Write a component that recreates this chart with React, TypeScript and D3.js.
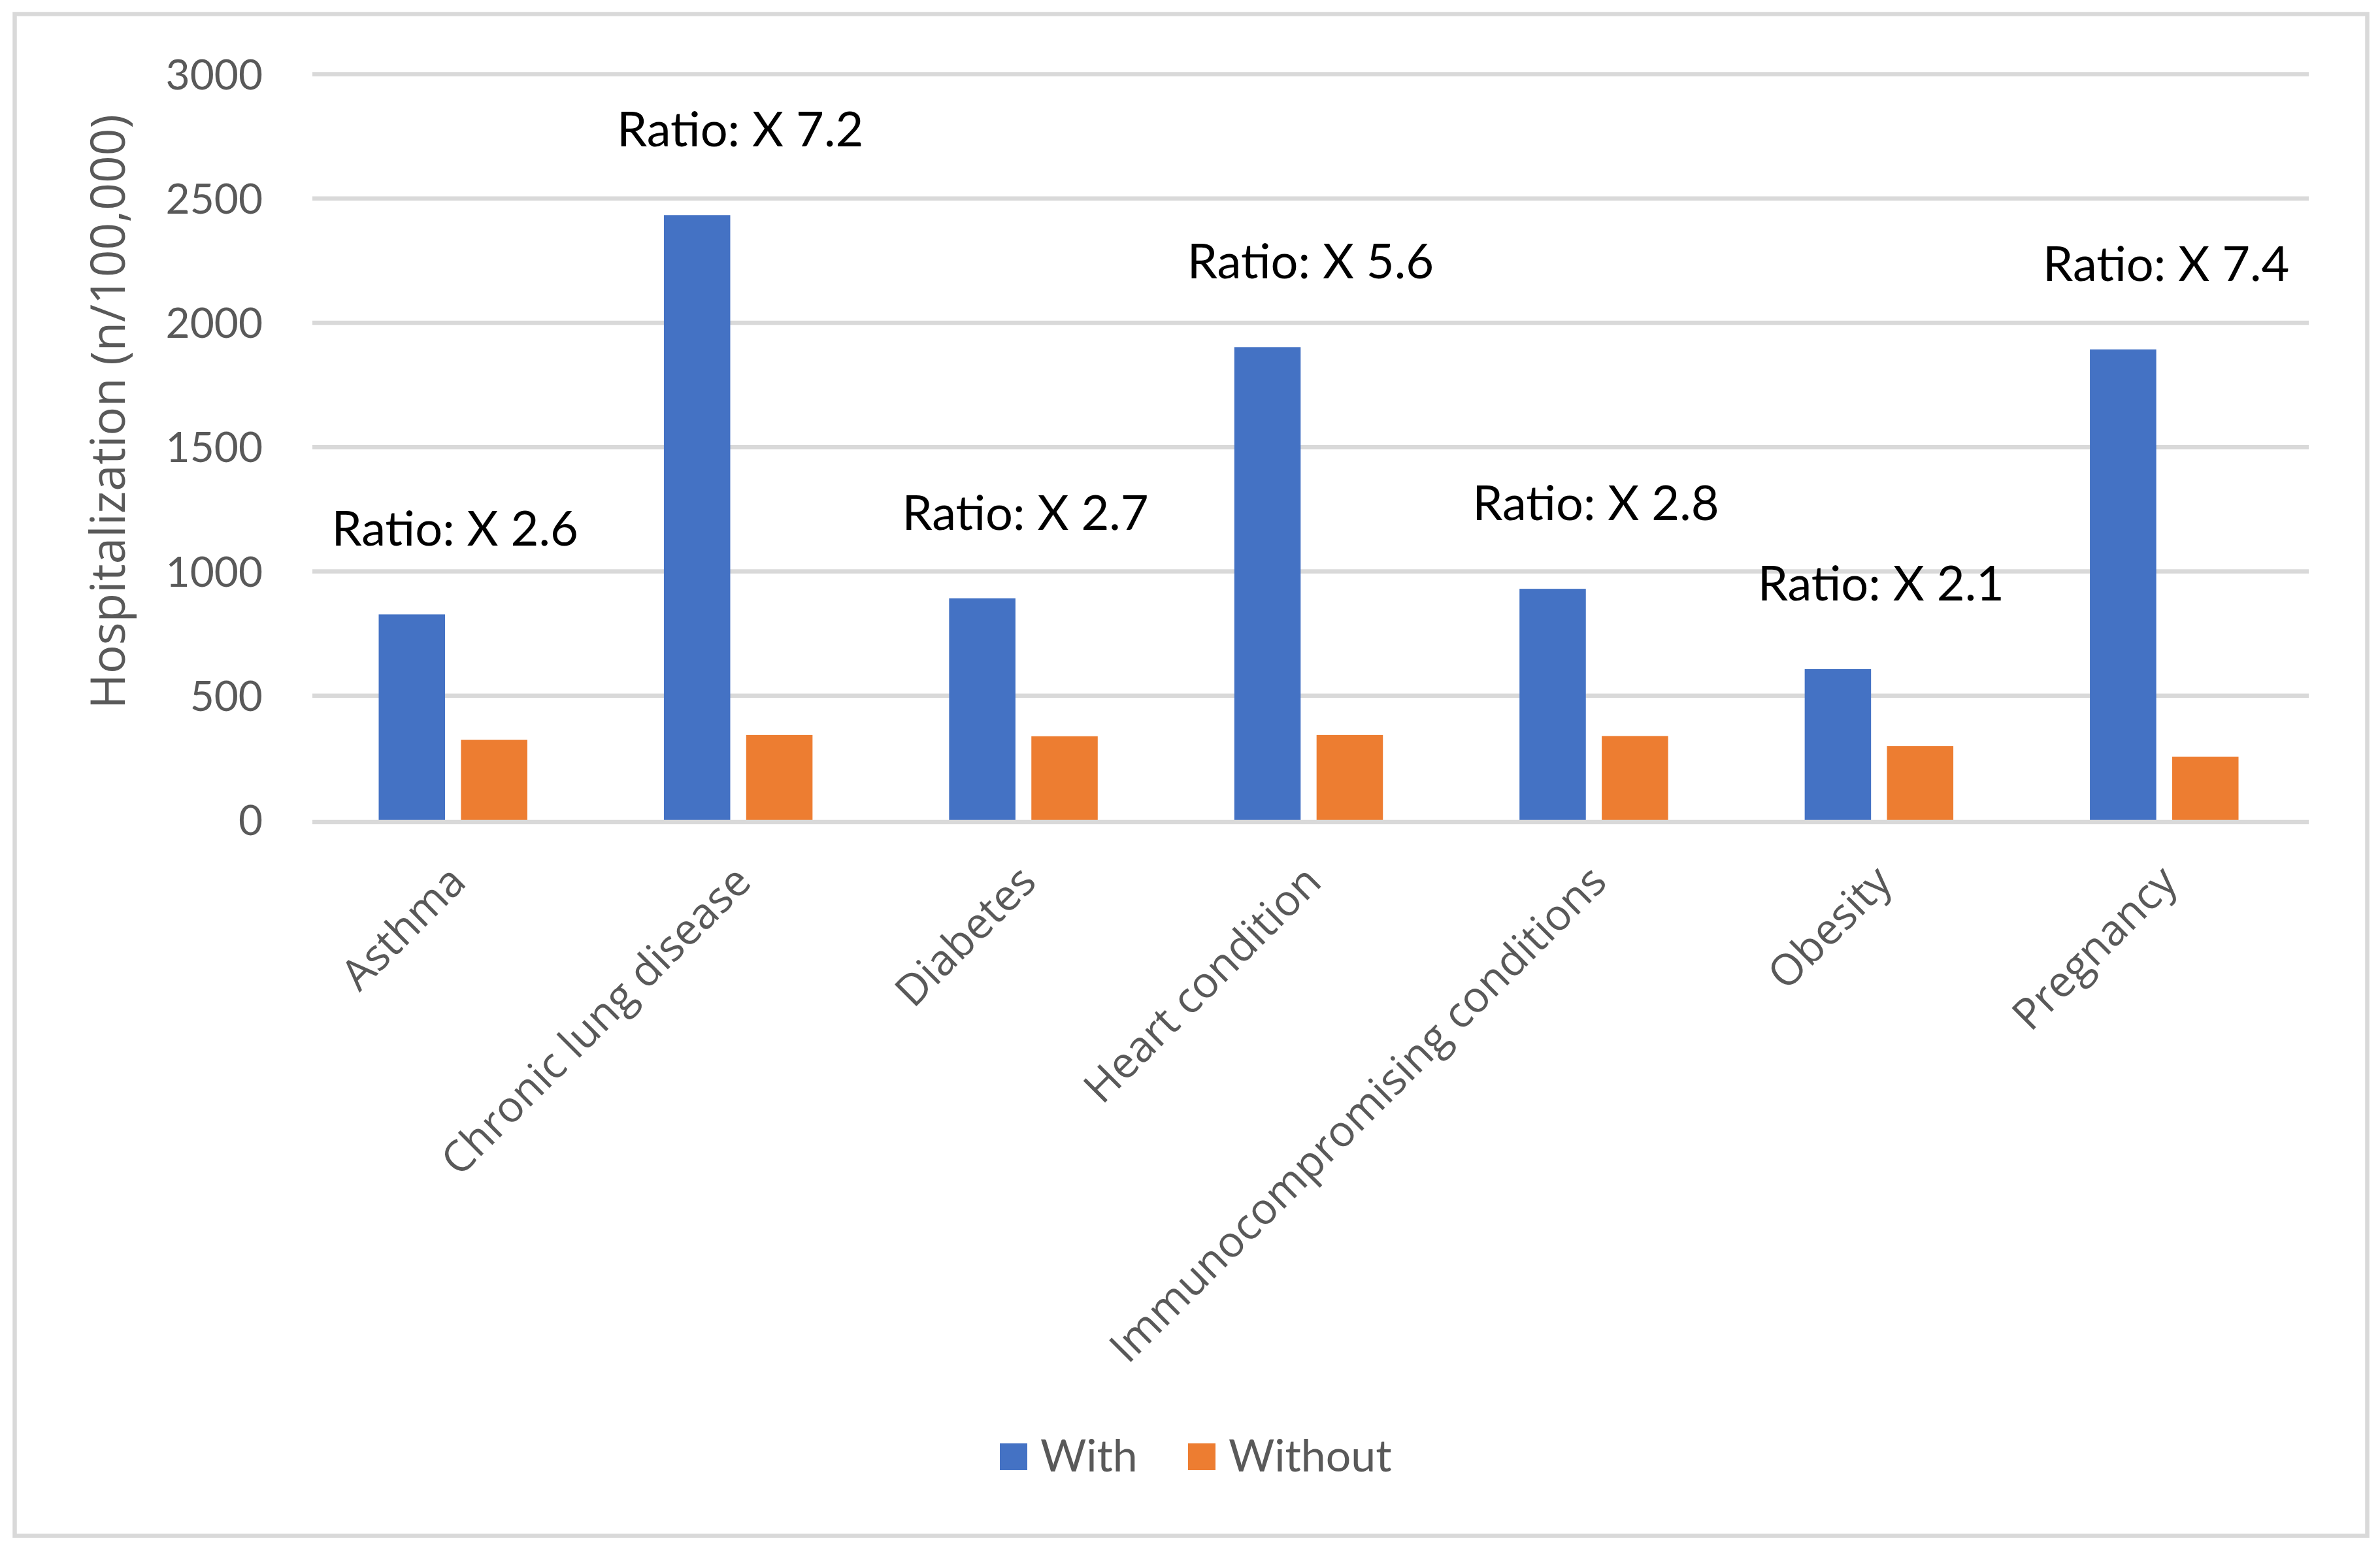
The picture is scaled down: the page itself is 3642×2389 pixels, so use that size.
import { useEffect, useRef } from "react";
import * as d3 from "d3";

const categories = [
  "Asthma",
  "Chronic lung disease",
  "Diabetes",
  "Heart condition",
  "Immunocompromising conditions",
  "Obesity",
  "Pregnancy",
];
const seriesNames = ["With", "Without"];
const withValues = [827, 2433, 892, 1902, 930, 607, 1893];
const withoutValues = [323, 342, 337, 342, 338, 297, 255];
const ratioLabels = [
  "Ratio: X 2.6",
  "Ratio: X 7.2",
  "Ratio: X 2.7",
  "Ratio: X 5.6",
  "Ratio: X 2.8",
  "Ratio: X 2.1",
  "Ratio: X 7.4",
];
const yTicks = [0, 500, 1000, 1500, 2000, 2500, 3000];

const WIDTH = 3642;
const HEIGHT = 2389;
const colors = ["#4472C4", "#ED7D31"];
const numFont = "Lato, 'Liberation Sans', sans-serif";
const labelFont = "'Open Sans', 'Noto Sans', sans-serif";

export default function App() {
  const ref = useRef<SVGSVGElement>(null);

  useEffect(() => {
    const svg = d3.select(ref.current);
    svg.selectAll("*").remove();

    svg
      .append("rect")
      .attr("width", WIDTH)
      .attr("height", HEIGHT)
      .attr("fill", "#fff");

    // chart area border
    svg
      .append("rect")
      .attr("x", 22.5)
      .attr("y", 21.5)
      .attr("width", 3600)
      .attr("height", 2329)
      .attr("fill", "none")
      .attr("stroke", "#D9D9D9")
      .attr("stroke-width", 6.5);

    const left = 478;
    const right = 3533;
    const top = 113.5;
    const bottom = 1255;

    const x = d3.scaleBand().domain(categories).range([left, right]).padding(0);
    const xInner = d3
      .scaleBand()
      .domain(seriesNames)
      .range([0, x.bandwidth()])
      .paddingInner(0.1935)
      .paddingOuter(0.83);
    const y = d3.scaleLinear().domain([0, 3000]).range([bottom, top]);

    // gridlines
    svg
      .append("g")
      .selectAll("line")
      .data(yTicks.filter((t) => t > 0))
      .enter()
      .append("line")
      .attr("x1", left)
      .attr("x2", right)
      .attr("y1", (d) => y(d))
      .attr("y2", (d) => y(d))
      .attr("stroke", "#D9D9D9")
      .attr("stroke-width", 6.5);

    // tick labels
    svg
      .append("g")
      .selectAll("text")
      .data(yTicks)
      .enter()
      .append("text")
      .attr("x", 402)
      .attr("y", (d) => y(d) + 23)
      .attr("text-anchor", "end")
      .style("font-family", numFont)
      .style("font-size", "64px")
      .attr("fill", "#595959")
      .text((d) => d);

    // bars
    const series = [withValues, withoutValues];
    series.forEach((vals, si) => {
      svg
        .append("g")
        .selectAll("rect")
        .data(vals)
        .enter()
        .append("rect")
        .attr("x", (_, i) => x(categories[i])! + xInner(seriesNames[si])! - 3)
        .attr("y", (d) => y(d))
        .attr("width", xInner.bandwidth())
        .attr("height", (d) => y(0) - y(d))
        .attr("fill", colors[si]);
    });

    // baseline on top of bars
    svg
      .append("line")
      .attr("x1", left)
      .attr("x2", right)
      .attr("y1", y(0) + 3)
      .attr("y2", y(0) + 3)
      .attr("stroke", "#D9D9D9")
      .attr("stroke-width", 6.5);

    // ratio annotations
    svg
      .append("g")
      .selectAll("text")
      .data(ratioLabels)
      .enter()
      .append("text")
      .attr("x", (_, i) => x(categories[i])! + x.bandwidth() / 2)
      .attr("y", (_, i) => y(withValues[i]) - 105)
      .attr("text-anchor", "middle")
      .style("font-family", numFont)
      .style("font-size", "74px")
      .attr("fill", "#000")
      .text((d) => d);

    // category labels, rotated
    svg
      .append("g")
      .selectAll("text")
      .data(categories)
      .enter()
      .append("text")
      .attr("transform", (d) => {
        const cx = x(d)! + x.bandwidth() / 2 + 20;
        return `translate(${cx},${bottom + 98}) rotate(-45)`;
      })
      .attr("text-anchor", "end")
      .style("font-family", labelFont)
      .style("font-size", "66px")
      .attr("fill", "#595959")
      .text((d) => d);

    // y axis title
    svg
      .append("text")
      .attr("transform", "translate(191,630) rotate(-90)")
      .attr("text-anchor", "middle")
      .style("font-family", labelFont)
      .style("font-size", "73px")
      .attr("fill", "#595959")
      .text("Hospitalization (n/100,000)");

    // legend
    const legendX = [1530, 1818];
    const legend = svg
      .append("g")
      .selectAll("g")
      .data(seriesNames)
      .enter()
      .append("g")
      .attr("transform", (_, i) => `translate(${legendX[i]},2209)`);
    legend
      .append("rect")
      .attr("width", 42)
      .attr("height", 41)
      .attr("fill", (_, i) => colors[i]);
    legend
      .append("text")
      .attr("x", 62)
      .attr("y", 43)
      .style("font-family", numFont)
      .style("font-size", "68px")
      .attr("fill", "#595959")
      .text((d) => d);
  }, []);

  return (
    <svg
      ref={ref}
      width={WIDTH}
      height={HEIGHT}
      style={{ position: "absolute", left: 0, top: 0 }}
    />
  );
}
